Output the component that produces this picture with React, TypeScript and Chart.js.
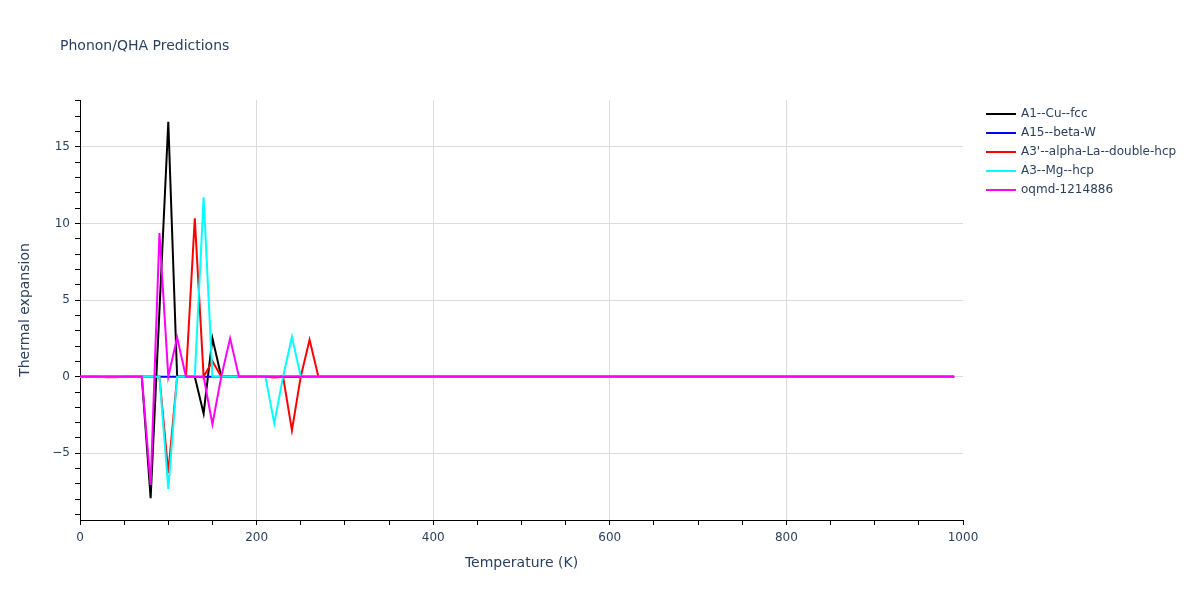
import React, { useEffect, useRef } from 'react';
import { Chart, registerables } from 'chart.js';

Chart.register(...registerables);

// Temperature grid (K)
const temperatures: number[] = [
  0, 10, 20, 30, 40, 50, 60, 70, 80, 90,
  100, 110, 120, 130, 140, 150, 160, 170, 180, 190,
  200, 210, 220, 230, 240, 250, 260, 270, 280, 290,
  300, 310, 320, 330, 340, 350, 360, 370, 380, 390,
  400, 410, 420, 430, 440, 450, 460, 470, 480, 490,
  500, 510, 520, 530, 540, 550, 560, 570, 580, 590,
  600, 610, 620, 630, 640, 650, 660, 670, 680, 690,
  700, 710, 720, 730, 740, 750, 760, 770, 780, 790,
  800, 810, 820, 830, 840, 850, 860, 870, 880, 890,
  900, 910, 920, 930, 940, 950, 960, 970, 980, 990,
];

const cuFcc: number[] = [
  0, 0, 0, 0, 0, 0, 0, 0, -7.93, 4.35,
  16.63, 0, 0, 0, -2.4, 2.5, 0, 0, 0, 0,
  0, 0, 0, 0, 0, 0, 0, 0, 0, 0,
  0, 0, 0, 0, 0, 0, 0, 0, 0, 0,
  0, 0, 0, 0, 0, 0, 0, 0, 0, 0,
  0, 0, 0, 0, 0, 0, 0, 0, 0, 0,
  0, 0, 0, 0, 0, 0, 0, 0, 0, 0,
  0, 0, 0, 0, 0, 0, 0, 0, 0, 0,
  0, 0, 0, 0, 0, 0, 0, 0, 0, 0,
  0, 0, 0, 0, 0, 0, 0, 0, 0, 0,
];

const betaW: number[] = [
  0, 0, 0, 0, 0, 0, 0, 0, 0, 0,
  0, 0, 0, 0, 0, 0, 0, 0, 0, 0,
  0, 0, 0, 0, 0, 0, 0, 0, 0, 0,
  0, 0, 0, 0, 0, 0, 0, 0, 0, 0,
  0, 0, 0, 0, 0, 0, 0, 0, 0, 0,
  0, 0, 0, 0, 0, 0, 0, 0, 0, 0,
  0, 0, 0, 0, 0, 0, 0, 0, 0, 0,
  0, 0, 0, 0, 0, 0, 0, 0, 0, 0,
  0, 0, 0, 0, 0, 0, 0, 0, 0, 0,
  0, 0, 0, 0, 0, 0, 0, 0, 0, 0,
];

const alphaLa: number[] = [
  0, 0, 0, -0.03, -0.03, 0, 0, 0, 0, 0,
  -6.28, 0, 0, 10.33, 0, 1.0, 0, 0, 0, 0,
  0, 0, -0.05, 0, -3.5, 0, 2.4, 0, 0, 0,
  0, 0, 0, 0, 0, 0, 0, 0, 0, 0,
  0, 0, 0, 0, 0, 0, 0, 0, 0, 0,
  0, 0, 0, 0, 0, 0, 0, 0, 0, 0,
  0, 0, 0, 0, 0, 0, 0, 0, 0, 0,
  0, 0, 0, 0, 0, 0, 0, 0, 0, 0,
  0, 0, 0, 0, 0, 0, 0, 0, 0, 0,
  0, 0, 0, 0, 0, 0, 0, 0, 0, 0,
];

const mgHcp: number[] = [
  0, 0, 0, 0, 0, 0, 0, 0, 0, 0,
  -7.33, 0, 0, 0, 11.7, 0, 0, 0, 0, 0,
  0, 0, -3.05, 0, 2.6, 0, 0, 0, 0, 0,
  0, 0, 0, 0, 0, 0, 0, 0, 0, 0,
  0, 0, 0, 0, 0, 0, 0, 0, 0, 0,
  0, 0, 0, 0, 0, 0, 0, 0, 0, 0,
  0, 0, 0, 0, 0, 0, 0, 0, 0, 0,
  0, 0, 0, 0, 0, 0, 0, 0, 0, 0,
  0, 0, 0, 0, 0, 0, 0, 0, 0, 0,
  0, 0, 0, 0, 0, 0, 0, 0, 0, 0,
];

const oqmd: number[] = [
  0, 0, 0, 0, 0, 0, 0, 0, -7.06, 9.37,
  0, 2.55, 0, 0, 0, -3.1, 0, 2.5, 0, 0,
  0, 0, 0, 0, 0, 0, 0, 0, 0, 0,
  0, 0, 0, 0, 0, 0, 0, 0, 0, 0,
  0, 0, 0, 0, 0, 0, 0, 0, 0, 0,
  0, 0, 0, 0, 0, 0, 0, 0, 0, 0,
  0, 0, 0, 0, 0, 0, 0, 0, 0, 0,
  0, 0, 0, 0, 0, 0, 0, 0, 0, 0,
  0, 0, 0, 0, 0, 0, 0, 0, 0, 0,
  0, 0, 0, 0, 0, 0, 0, 0, 0, 0,
];

const seriesNames: string[] = [
  'A1--Cu--fcc',
  'A15--beta-W',
  "A3'--alpha-La--double-hcp",
  'A3--Mg--hcp',
  'oqmd-1214886',
];
const seriesColors: string[] = ['#000000', '#0000ff', '#ff0000', '#00ffff', '#ff00ff'];
const seriesValues: number[][] = [cuFcc, betaW, alphaLa, mgHcp, oqmd];

const chartTitle = 'Phonon/QHA Predictions';
const xTitle = 'Temperature (K)';
const yTitle = 'Thermal expansion';

const FONT = '"DejaVu Sans", Verdana, sans-serif';
const TEXT = '#2a3f5f';
const GRID = '#dcdcdc';

const textPlugin = {
  id: 'plotlyText',
  afterDraw(chart: any) {
    const ctx = chart.ctx as CanvasRenderingContext2D;
    const area = chart.chartArea;
    ctx.save();
    ctx.fillStyle = TEXT;
    // title
    ctx.font = `14px ${FONT}`;
    ctx.textAlign = 'left';
    ctx.textBaseline = 'alphabetic';
    ctx.fillText(chartTitle, 60, 50);
    // x title
    ctx.textAlign = 'center';
    ctx.textBaseline = 'middle';
    ctx.fillText(xTitle, (area.left + area.right) / 2, 563);
    // y title
    ctx.save();
    ctx.translate(25, (area.top + area.bottom) / 2);
    ctx.rotate(-Math.PI / 2);
    ctx.fillText(yTitle, 0, 0);
    ctx.restore();
    // legend
    ctx.font = `12px ${FONT}`;
    ctx.textAlign = 'left';
    ctx.textBaseline = 'middle';
    seriesNames.forEach((name, i) => {
      const y = 114 + i * 19;
      ctx.strokeStyle = seriesColors[i];
      ctx.lineWidth = 2;
      ctx.beginPath();
      ctx.moveTo(986, y);
      ctx.lineTo(1016, y);
      ctx.stroke();
      ctx.fillStyle = TEXT;
      ctx.fillText(name, 1021, y);
    });
    ctx.restore();
  },
};

export default function App() {
  const canvasRef = useRef<HTMLCanvasElement | null>(null);

  useEffect(() => {
    if (!canvasRef.current) return;
    const chart = new Chart(canvasRef.current, {
      type: 'line',
      data: {
        labels: temperatures,
        datasets: seriesValues.map((vals, i) => ({
          label: seriesNames[i],
          data: vals.map((v, j) => ({ x: temperatures[j], y: v })),
          borderColor: seriesColors[i],
          backgroundColor: seriesColors[i],
          borderWidth: 2,
          pointRadius: 0,
          tension: 0,
          fill: false,
          order: seriesValues.length - i,
        })),
      },
      options: {
        responsive: false,
        animation: false,
        layout: { padding: { top: 100, right: 237, left: 0, bottom: 0 } },
        plugins: {
          legend: { display: false },
          title: { display: false },
          tooltip: { enabled: false },
        },
        scales: {
          x: {
            type: 'linear',
            min: 0,
            max: 1000,
            afterFit: (scale: any) => {
              scale.height = 80;
            },
            afterBuildTicks: (scale: any) => {
              const t = [];
              for (let v = 0; v <= 1000; v += 50) t.push({ value: v });
              scale.ticks = t;
            },
            ticks: {
              autoSkip: false,
              maxRotation: 0,
              padding: 6,
              font: { family: FONT, size: 12 },
              color: TEXT,
              callback: (v: any) => (Number(v) % 200 === 0 ? String(v) : ''),
            },
            grid: {
              drawTicks: true,
              tickLength: 5,
              tickColor: '#000',
              color: (c: any) => {
                const v = c.tick ? c.tick.value : -1;
                return v % 200 === 0 && v !== 0 && v !== 1000 ? GRID : 'rgba(0,0,0,0)';
              },
            },
            border: { display: true, color: '#000', width: 1 },
          },
          y: {
            type: 'linear',
            min: -9.35,
            max: 18.05,
            afterFit: (scale: any) => {
              scale.width = 80;
            },
            afterBuildTicks: (scale: any) => {
              const t = [];
              for (let v = -9; v <= 18; v += 1) t.push({ value: v });
              scale.ticks = t;
            },
            ticks: {
              autoSkip: false,
              padding: 5,
              font: { family: FONT, size: 12 },
              color: TEXT,
              callback: (v: any) => {
                const n = Number(v);
                if (n % 5 !== 0) return '';
                return n < 0 ? '\u2212' + Math.abs(n) : String(n);
              },
            },
            grid: {
              drawTicks: true,
              tickLength: 5,
              tickColor: '#000',
              color: (c: any) => {
                const v = c.tick ? c.tick.value : 1;
                return v % 5 === 0 ? GRID : 'rgba(0,0,0,0)';
              },
            },
            border: { display: true, color: '#000', width: 1 },
          },
        },
      },
      plugins: [textPlugin],
    } as any);
    return () => chart.destroy();
  }, []);

  return (
    <div style={{ position: 'absolute', left: 0, top: 0, width: 1200, height: 600, background: '#fff' }}>
      <canvas ref={canvasRef} width={1200} height={600} />
    </div>
  );
}
